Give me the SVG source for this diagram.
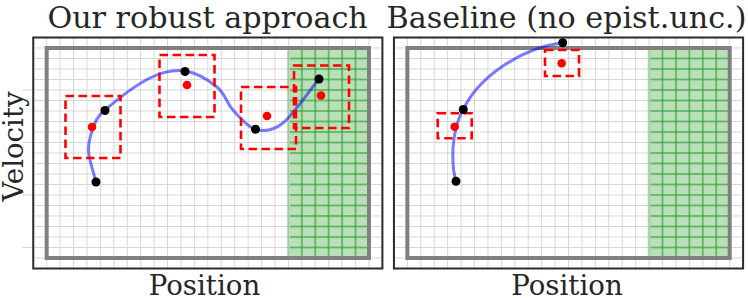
<svg xmlns="http://www.w3.org/2000/svg" width="748" height="298" viewBox="0 0 748 298">
<defs>
<pattern id="gridL" patternUnits="userSpaceOnUse" x="46.17" y="47.5" width="13.43" height="10.5">
<rect x="0" y="0" width="1" height="10.5" fill="#d6d6d6"/>
<rect x="0" y="0" width="13.43" height="1" fill="#d6d6d6"/>
</pattern>
<pattern id="gridR" patternUnits="userSpaceOnUse" x="406.87" y="47.5" width="13.43" height="10.5">
<rect x="0" y="0" width="1" height="10.5" fill="#d6d6d6"/>
<rect x="0" y="0" width="13.43" height="1" fill="#d6d6d6"/>
</pattern>
<pattern id="gridG" patternUnits="userSpaceOnUse" x="300.8" y="47" width="13.43" height="10.5">
<rect x="0" y="0" width="2" height="10.5" fill="#2ca02c" fill-opacity="0.5"/>
<rect x="0" y="0" width="13.43" height="2" fill="#2ca02c" fill-opacity="0.5"/>
</pattern>
<pattern id="gridGR" patternUnits="userSpaceOnUse" x="661.5" y="47" width="13.43" height="10.5">
<rect x="0" y="0" width="2" height="10.5" fill="#2ca02c" fill-opacity="0.5"/>
<rect x="0" y="0" width="13.43" height="2" fill="#2ca02c" fill-opacity="0.5"/>
</pattern>
</defs>
<style>
.lbl{font-family:"DejaVu Serif","Liberation Serif",serif;font-size:27.6px;fill:#262626;text-anchor:middle}
.ttl{font-family:"DejaVu Serif","Liberation Serif",serif;font-size:30.2px;fill:#262626;text-anchor:middle}
.frame{fill:none;stroke:#2b2b2b;stroke-width:2}
.bound{fill:none;stroke:#808080;stroke-width:4}
.green{fill:#2ca02c;fill-opacity:0.33}
.box{fill:none;stroke:#ff0000;stroke-width:2.6;stroke-dasharray:8.5 4.5}
.bdot{fill:#000}
.rdot{fill:#ff0000}
.traj{fill:none;stroke:#0000ff;stroke-opacity:0.52;stroke-width:3;stroke-linecap:round}
.tick{stroke:#d6d6d6;stroke-width:1}
</style>
<rect width="748" height="298" fill="#fff"/>

<g id="titles">
<text class="ttl" x="207.6" y="28">Our robust approach</text>
<text class="ttl" x="566.5" y="28">Baseline (no epist.unc.)</text>
<text class="lbl" x="204.5" y="294.5">Position</text>
<text class="lbl" x="567" y="294.5">Position</text>
<text class="lbl" transform="translate(22.5,146.5) rotate(-90)">Velocity</text>
</g>

<g id="panel-left">
<rect x="33.24" y="37.5" width="349.16" height="231" fill="url(#gridL)"/>
<line class="tick" x1="22.5" y1="90" x2="33" y2="90"/>
<line class="tick" x1="22.5" y1="142.5" x2="33" y2="142.5"/>
<line class="tick" x1="22.5" y1="195" x2="33" y2="195"/>
<line class="tick" x1="22.5" y1="247.5" x2="33" y2="247.5"/>
<rect class="green" x="287" y="48" width="82" height="210"/>
<rect x="290" y="48" width="79" height="210" fill="url(#gridG)"/>
<rect class="bound" x="46.67" y="48" width="322.33" height="210"/>
<rect class="frame" x="33.24" y="37.5" width="349.16" height="231"/>
</g>

<g id="panel-right">
<rect x="393.94" y="37.5" width="349.16" height="231" fill="url(#gridR)"/>
<rect class="green" x="647.7" y="48" width="82" height="210"/>
<rect x="650.7" y="48" width="79" height="210" fill="url(#gridGR)"/>
<rect class="bound" x="407.37" y="48" width="322.33" height="210"/>
<rect class="frame" x="393.94" y="37.5" width="349.16" height="231"/>
</g>

<g id="connectors">
<path class="traj" d="M96,182 C93.5,171.3 88.7,159.8 88.5,150 C88.3,140.2 92.25,129.7 95,123 C97.75,116.3 100,114 105,110 C119,98 136.7,84.5 150,78 C163.3,71.5 173.8,69.5 185,71 C196.2,72.5 209,80.5 217,87 C225,93.5 226.5,102.9 233,110 C239.5,117.1 247.7,127.3 256,129.5 C264.3,131.7 272.5,131.4 283,123 C293.5,114.6 307,93.7 319,79"/>
<path class="traj" d="M456,181.3 C453,172 452.5,160 453,148 C454,135 457,120 463.3,109.5 C478,78 520,48 562.7,42.7"/>
</g>

<g id="L-state-1"><rect class="box" x="65.5" y="96" width="55" height="62"/><circle class="rdot" cx="92" cy="127" r="4.3"/><circle class="bdot" cx="96" cy="182" r="4.5"/><circle class="bdot" cx="105" cy="110.5" r="4.5"/></g>
<g id="L-state-2"><rect class="box" x="159.5" y="55" width="55" height="62"/><circle class="rdot" cx="187" cy="85" r="4.3"/><circle class="bdot" cx="185" cy="71.5" r="4.5"/></g>
<g id="L-state-3"><rect class="box" x="241" y="87" width="55" height="62"/><circle class="rdot" cx="267" cy="116" r="4.3"/><circle class="bdot" cx="255.5" cy="129.3" r="4.5"/></g>
<g id="L-state-4"><rect class="box" x="294" y="65.5" width="55" height="62.5"/><circle class="rdot" cx="321" cy="95.5" r="4.3"/><circle class="bdot" cx="319" cy="79" r="4.5"/></g>

<g id="R-state-1"><rect class="box" x="437.7" y="113.3" width="34" height="25"/><circle class="rdot" cx="454.7" cy="126.7" r="4.3"/><circle class="bdot" cx="456" cy="181.3" r="4.5"/><circle class="bdot" cx="463.3" cy="109.5" r="4.5"/></g>
<g id="R-state-2"><rect class="box" x="545" y="50" width="34" height="26"/><circle class="rdot" cx="561.7" cy="63.3" r="4.3"/><circle class="bdot" cx="562.7" cy="42.7" r="4.5"/></g>
</svg>
